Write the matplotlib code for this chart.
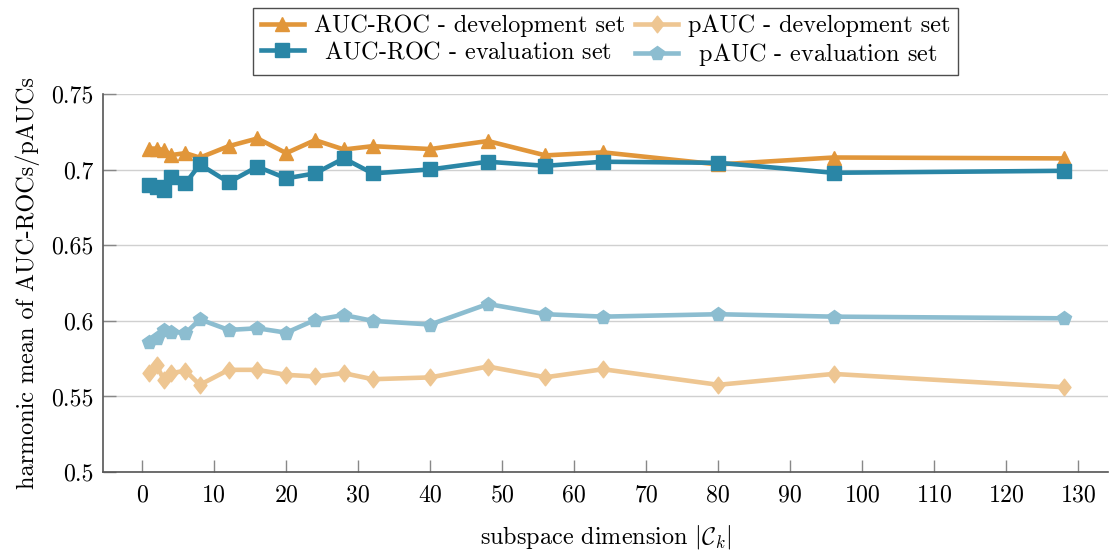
import matplotlib
matplotlib.use("Agg")
import matplotlib.pyplot as plt
from matplotlib.path import Path

plt.rcParams['font.family'] = ['cmr10', 'DejaVu Serif']
plt.rcParams['mathtext.fontset'] = 'cm'
plt.rcParams['axes.unicode_minus'] = False

dims = [1, 2, 3, 4, 6, 8, 12, 16, 20, 24, 28, 32, 40, 48, 56, 64, 80, 96, 128]
auc_dev = [0.714, 0.714, 0.713, 0.7097, 0.711, 0.708, 0.7156, 0.7207, 0.711, 0.7196,
           0.7134, 0.7156, 0.7137, 0.719, 0.7095, 0.7115, 0.7035, 0.7081, 0.7075]
auc_eval = [0.6898, 0.6887, 0.6868, 0.695, 0.691, 0.7035, 0.6917, 0.702, 0.6943, 0.6976,
            0.7075, 0.6976, 0.7002, 0.7053, 0.7026, 0.7053, 0.7046, 0.698, 0.6993]
pauc_dev = [0.5654, 0.5705, 0.561, 0.5654, 0.567, 0.5577, 0.5676, 0.5676, 0.5643, 0.5632,
            0.5654, 0.5614, 0.5626, 0.5698, 0.5627, 0.568, 0.5577, 0.5649, 0.5561]
pauc_eval = [0.5863, 0.5885, 0.594, 0.5929, 0.5918, 0.601, 0.594, 0.5951, 0.5922, 0.6006,
             0.6039, 0.600, 0.5976, 0.6112, 0.6044, 0.6028, 0.6044, 0.6028, 0.6017]

labels = ["AUC-ROC - development set", "pAUC - development set",
          r"$\enspace$AUC-ROC - evaluation set", r"$\enspace$pAUC - evaluation set"]
xticks = list(range(0, 131, 10))
yticks = [0.5, 0.55, 0.6, 0.65, 0.7, 0.75]
ytick_labels = ["0.5", "0.55", "0.6", "0.65", "0.7", "0.75"]

c_auc_dev = "#E1963A"
c_pauc_dev = "#EEC692"
c_auc_eval = "#2A86A6"
c_pauc_eval = "#8CBDD0"

diamond = Path([(0, 1), (0.78, 0), (0, -1), (-0.78, 0), (0, 1)],
               [Path.MOVETO, Path.LINETO, Path.LINETO, Path.LINETO, Path.CLOSEPOLY])

fig = plt.figure(figsize=(11.09, 5.54), dpi=100)
ax = fig.add_axes([0.0932, 0.148, 0.9058, 0.682])

lw = 3.3
ms = 10
h1, = ax.plot(dims, auc_dev, color=c_auc_dev, lw=lw, marker='^', ms=ms, mec=c_auc_dev, mfc=c_auc_dev, zorder=3)
h2, = ax.plot(dims, pauc_dev, color=c_pauc_dev, lw=lw, marker=diamond, ms=12, mec=c_pauc_dev, mfc=c_pauc_dev, zorder=3)
h3, = ax.plot(dims, auc_eval, color=c_auc_eval, lw=lw, marker='s', ms=ms*0.95, mec=c_auc_eval, mfc=c_auc_eval, zorder=3)
h4, = ax.plot(dims, pauc_eval, color=c_pauc_eval, lw=lw, marker='p', ms=ms, mec=c_pauc_eval, mfc=c_pauc_eval, zorder=3)

ax.set_xlim(-5.4, 134.1)
ax.set_ylim(0.5, 0.75)
ax.set_xticks(xticks)
ax.set_xticklabels([str(t) for t in xticks])
ax.set_yticks(yticks)
ax.set_yticklabels(ytick_labels)

for s in ['top', 'right']:
    ax.spines[s].set_visible(False)
for s in ['left', 'bottom']:
    ax.spines[s].set_color('#555555')
    ax.spines[s].set_linewidth(1.2)

ax.grid(axis='y', color='#d0d0d0', lw=1.0, zorder=0)
ax.set_axisbelow(True)
ax.tick_params(axis='both', direction='in', length=9, width=1.0, color='#888888',
               labelsize=17.2)
ax.tick_params(axis='x', pad=9)
ax.tick_params(axis='y', pad=7)

ax.set_xlabel(r"subspace dimension $|\mathcal{C}_k|$", fontsize=17.4, labelpad=12)
ax.set_ylabel("harmonic mean of AUC-ROCs/pAUCs", fontsize=17.4, labelpad=8)

leg = ax.legend([h1, h3, h2, h4], [labels[0], labels[2], labels[1], labels[3]],
                ncol=2, loc='lower center', bbox_to_anchor=(0.5, 1.05),
                fontsize=17.4, frameon=True, fancybox=False, edgecolor='#222222',
                handlelength=1.8, columnspacing=0.4, handletextpad=0.4,
                borderpad=0.3, labelspacing=0.15, borderaxespad=0)
leg.get_frame().set_linewidth(1.0)

fig.savefig("out.png", dpi=100)
